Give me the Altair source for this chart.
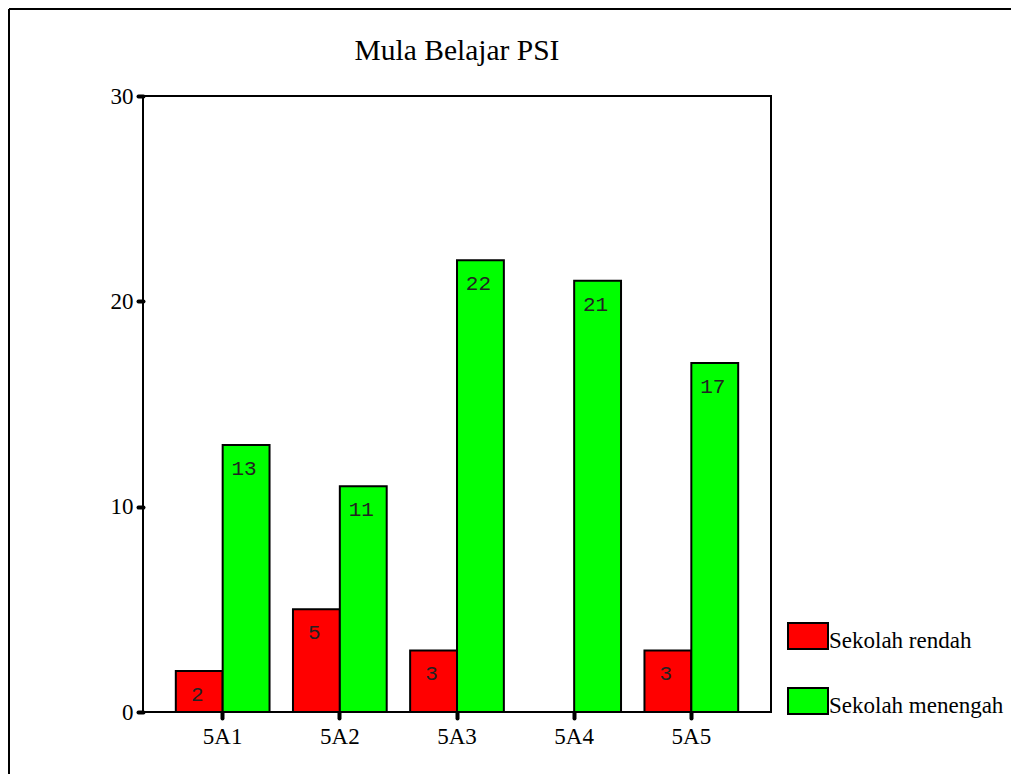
import altair as alt
import pandas as pd

categories = ["5A1", "5A2", "5A3", "5A4", "5A5"]
series_names = ["Sekolah rendah", "Sekolah menengah"]
rendah = [2, 5, 3, 0, 3]
menengah = [13, 11, 22, 21, 17]
colors = ["#FF0000", "#00FF00"]
y_ticks = [0, 10, 20, 30]
title_text = "Mula Belajar PSI"

rows = []
for c, r, m in zip(categories, rendah, menengah):
    rows.append({"kelas": c, "group": series_names[0], "value": r})
    rows.append({"kelas": c, "group": series_names[1], "value": m})
df = pd.DataFrame(rows)
df = df[df["value"] > 0]

W, H = 628, 616

x_enc = alt.X("kelas:N", sort=categories,
              scale=alt.Scale(domain=categories, paddingInner=0.2, paddingOuter=0.28),
              axis=alt.Axis(title=None, labelAngle=0, domain=False, ticks=True,
                            tickColor="black", tickWidth=4, tickSize=6, tickCap="round",
                            labelFont="Liberation Serif", labelFontSize=23,
                            labelColor="black", labelPadding=7))
xo_enc = alt.XOffset("group:N", sort=series_names,
                     scale=alt.Scale(domain=series_names, paddingInner=0, paddingOuter=0))
y_enc = alt.Y("value:Q", scale=alt.Scale(domain=[0, 30], nice=False),
              axis=alt.Axis(title=None, values=y_ticks, grid=False, domain=False,
                            tickColor="black", tickWidth=4, tickSize=5, tickCap="round",
                            labelFont="Liberation Serif", labelFontSize=23,
                            labelColor="black", labelPadding=5))

bars = alt.Chart(df).mark_bar(stroke="black", strokeWidth=2).encode(
    x=x_enc,
    xOffset=xo_enc,
    y=y_enc,
    color=alt.Color("group:N", sort=series_names,
                    scale=alt.Scale(domain=series_names, range=colors),
                    legend=alt.Legend(title=None, orient="none", legendX=644, legendY=531,
                                      padding=0,
                                      symbolType="M-1,-1.25L1,-1.25L1,0.05L-1,0.05Z",
                                      symbolSize=1600, symbolStrokeColor="black",
                                      symbolStrokeWidth=2, symbolOpacity=1,
                                      labelFont="Liberation Serif", labelFontSize=23,
                                      labelColor="black", labelBaseline="alphabetic",
                                      labelOffset=0, labelLimit=400, rowPadding=31)),
)

labels = alt.Chart(df).mark_text(font="Liberation Mono", fontSize=21, color="#222222",
                                 baseline="alphabetic", align="center", dy=30, dx=-2).encode(
    x=alt.X("kelas:N", sort=categories),
    xOffset=alt.XOffset("group:N", sort=series_names),
    y=alt.Y("value:Q"),
    text=alt.Text("value:Q"),
)

frame_df = pd.DataFrame({"k": [0]})
left_rule = alt.Chart(frame_df).mark_rule(color="black", strokeWidth=2).encode(
    x=alt.value(-134), y=alt.value(-87), y2=alt.value(H + 80))
top_rule = alt.Chart(frame_df).mark_rule(color="black", strokeWidth=2).encode(
    x=alt.value(-134), x2=alt.value(W + 260), y=alt.value(-87))

chart = alt.layer(bars, labels, left_rule, top_rule).properties(
    width=W, height=H,
    background="white",
    title=alt.TitleParams(title_text, font="Liberation Serif", fontSize=29.5,
                          fontWeight="normal", color="black", anchor="middle",
                          frame="group", baseline="alphabetic", offset=-81),
    autosize=alt.AutoSizeParams(type="none"),
    padding={"left": 135, "top": 88, "right": 240, "bottom": 62},
).configure_view(stroke="black", strokeWidth=2)

chart.save("out.html", embed_options={"renderer": "svg", "actions": False})
